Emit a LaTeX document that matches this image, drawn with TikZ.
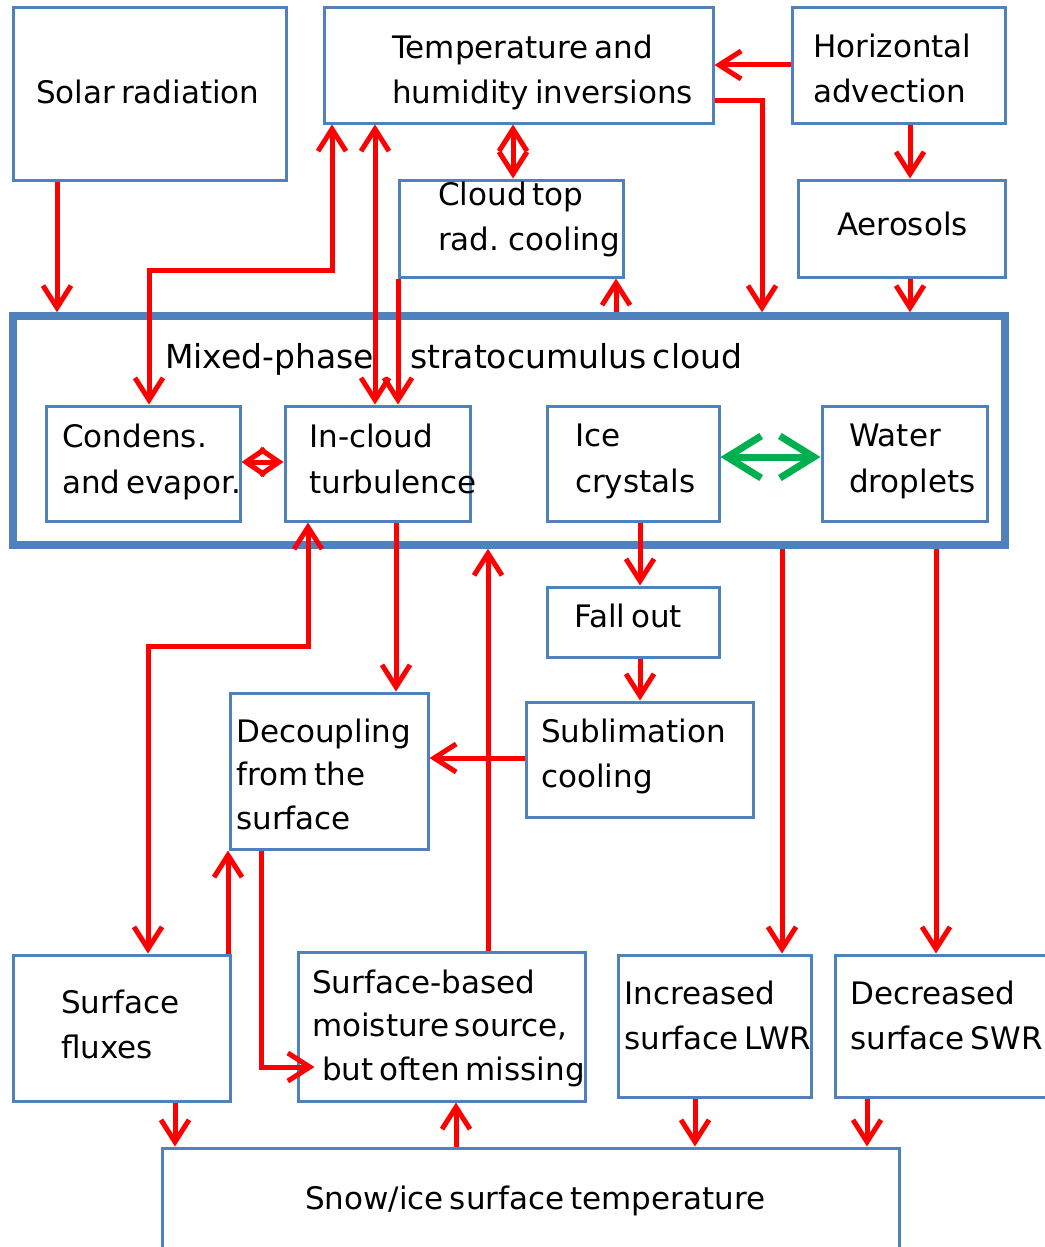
\documentclass[tikz,border=0pt]{standalone}
\usepackage{fontspec}
\setmainfont[WordSpace=0.6]{DejaVu Sans}
\usetikzlibrary{arrows.meta,fit}
\definecolor{boxblue}{HTML}{4F81BD}
\definecolor{arrred}{HTML}{FF0000}
\definecolor{arrgreen}{HTML}{00B050}
\begin{document}
\begin{tikzpicture}[x=1pt,y=-1pt,
  box/.style={draw=boxblue, line width=3pt, inner sep=0pt},
  bigbox/.style={draw=boxblue, line width=7.5pt, inner sep=0pt},
  txt/.style={anchor=north west, inner sep=0pt, align=left, text=black, font=\fontsize{31}{45}\selectfont},
  >={Straight Barb[length=22pt,width=28pt]},
  arr/.style={draw=arrred, line width=5pt, ->},
  arrb/.style={draw=arrred, line width=5pt, <->},
  grn/.style={draw=arrgreen, line width=7pt, {Straight Barb[length=34pt,width=42pt]}-{Straight Barb[length=34pt,width=42pt]}},
]
\path[use as bounding box, fill=white] (0,0) rectangle (1044,1247);

% boxes
\node[box, fit={(13,8) (286,180)}] (solar) {};
\node[box, fit={(324,8) (713,123)}] (temp) {};
\node[box, fit={(792,8) (1005,123)}] (horiz) {};
\node[box, fit={(399,180) (623,277)}] (ctop) {};
\node[box, fit={(798,180) (1005,277)}] (aero) {};
\node[bigbox, fit={(13,316) (1005,545)}] (cloud) {};
\node[box, fit={(46,406) (240,521)}] (cond) {};
\node[box, fit={(285,406) (470,521)}] (incl) {};
\node[box, fit={(547,406) (719,521)}] (ice) {};
\node[box, fit={(822,406) (987,521)}] (water) {};
\node[box, fit={(547,587) (719,657)}] (fall) {};
\node[box, fit={(526,702) (753,817)}] (subl) {};
\node[box, fit={(230,693) (428,849)}] (dec) {};
\node[box, fit={(13,955) (230,1101)}] (flux) {};
\node[box, fit={(298,952) (585,1101)}] (moist) {};
\node[box, fit={(618,955) (811,1097)}] (lwr) {};
\node[box, fit={(835,955) (1070,1097)}] (swr) {};
\node[box, fit={(162,1148) (899,1270)}] (snow) {};

% texts
\node[txt] (tSolar) at (36,79.5) {Solar radiation};
\node[txt] (tTemp) at (392,34.5) {Temperature and\\humidity inversions};
\node[txt] (tHoriz) at (813,33.5) {Horizontal\\advection};
\node[txt] (tCtop) at (438,181.5) {Cloud top\\rad. cooling};
\node[txt] (tAero) at (837,211.5) {Aerosols};
\node[txt, font=\fontsize{33}{45}\selectfont] (tMixed) at (165,343.5) {Mixed-phase\hspace{36pt}stratocumulus cloud};
\node[txt, font=\fontsize{31}{46}\selectfont] (tCond) at (62,423.5) {Condens.\\and evapor.};
\node[txt, font=\fontsize{31}{46}\selectfont] (tIncl) at (309,423.5) {In-cloud\\turbulence};
\node[txt, font=\fontsize{31}{46}\selectfont] (tIce) at (575,423.5) {Ice\\crystals};
\node[txt, font=\fontsize{31}{46}\selectfont] (tWater) at (849,423.5) {Water\\droplets};
\node[txt] (tFall) at (574,603.5) {Fall out};
\node[txt] (tSubl) at (541,718.5) {Sublimation\\cooling};
\node[txt, font=\fontsize{31}{43.5}\selectfont] (tDec) at (236,718.5) {Decoupling\\from the\\surface};
\node[txt] (tFlux) at (61,989.5) {Surface\\fluxes};
\node[txt, font=\fontsize{31}{43.5}\selectfont] (tMoist) at (312,969.5) {Surface-based\\moisture source,\\\hspace*{10pt}but often missing};
\node[txt] (tLwr) at (624,980.5) {Increased\\surface LWR};
\node[txt] (tSwr) at (850,980.5) {Decreased\\surface SWR};
\node[txt] (tSnow) at (305,1185.5) {Snow/ice surface temperature};

% connectors
\draw[arr] (solar.south -| 57,0) -- (cloud.north -| 57,0);
\coordinate (k1) at (149,270);
\draw[arrb] (temp.south -| 332,0) |- (k1) -- (cond.north -| k1);
\draw[arrb] (temp.south -| 375,0) -- (incl.north -| 375,0);
\draw[arr] (ctop.south -| 398,0) -- (incl.north -| 398,0);
\draw[arrb] (temp.south -| 513,0) -- (ctop.north -| 513,0);
\draw[arr] (horiz.west |- 0,65) -- (temp.east |- 0,65);
\draw[arr] (temp.east |- 0,100) -| (cloud.north -| 762,0);
\draw[arr] (horiz.south -| 910,0) -- (aero.north -| 910,0);
\draw[arr] (aero.south -| 910,0) -- (cloud.north -| 910,0);
\draw[arr] (cloud.north -| 616,0) -- (ctop.south -| 616,0);
\draw[arrb, >={Straight Barb[length=19pt,width=26pt]}] (cond.east |- 0,462) -- (incl.west |- 0,462);
\draw[grn] (ice.east |- 0,457) -- (water.west |- 0,457);
\draw[arr] (ice.south -| 640,0) -- (fall.north -| 640,0);
\draw[arr] (fall.south -| 640,0) -- (subl.north -| 640,0);
\draw[arr] (subl.west |- 0,758) -- (dec.east |- 0,758);
\draw[arr] (incl.south -| 396,0) -- (dec.north -| 396,0);
\coordinate (k2) at (308,646);
\draw[arrb] (incl.south -| k2) -- (k2) -| (flux.north -| 148,0);
\draw[arr] (moist.north -| 488,0) -- (cloud.south -| 488,0);
\draw[arr] (cloud.south -| 782,0) -- (lwr.north -| 782,0);
\draw[arr] (cloud.south -| 936,0) -- (swr.north -| 936,0);
\draw[arr] (flux.north -| 228,0) -- (dec.south -| 228,0);
\draw[arr, shorten >=-18pt] (dec.south -| 261,0) |- (moist.west |- 0,1067);
\draw[arr] (flux.south -| 175,0) -- (snow.north -| 175,0);
\draw[arr] (snow.north -| 456,0) -- (moist.south -| 456,0);
\draw[arr] (lwr.south -| 695,0) -- (snow.north -| 695,0);
\draw[arr] (swr.south -| 867,0) -- (snow.north -| 867,0);
\end{tikzpicture}
\end{document}
